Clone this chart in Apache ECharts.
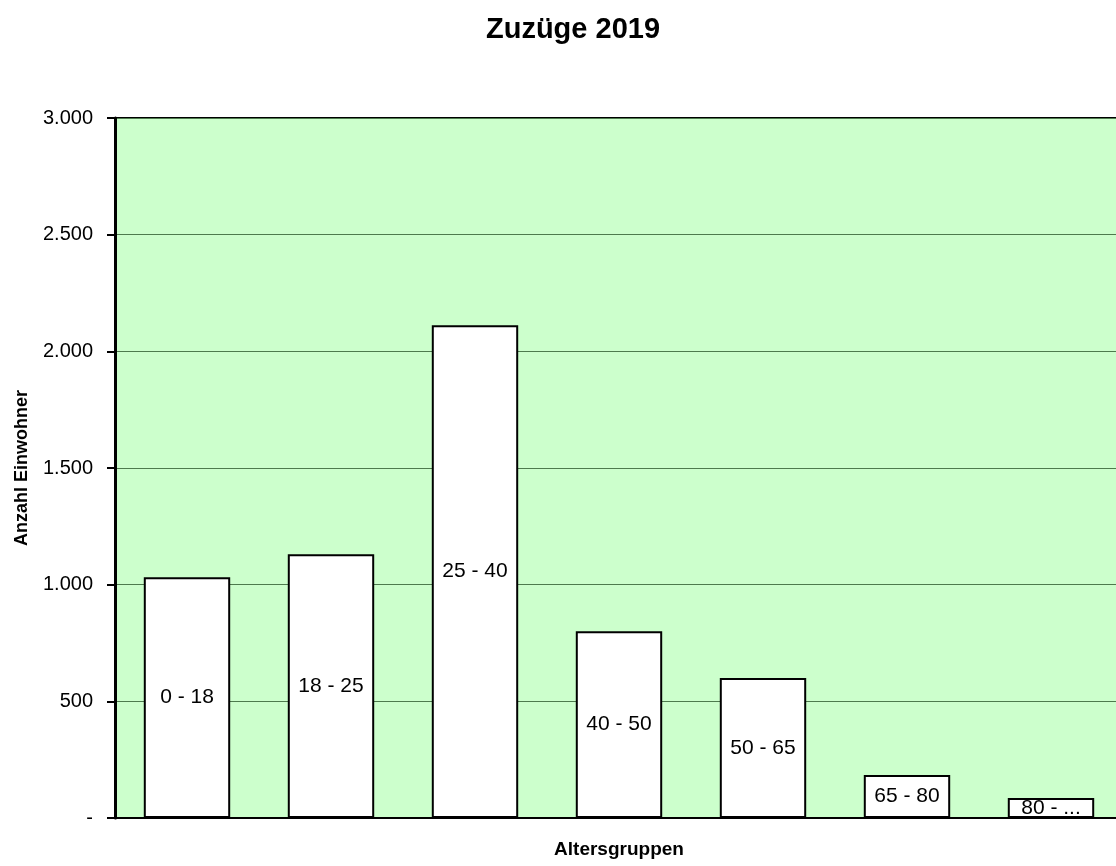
<!DOCTYPE html>
<html>
<head>
<meta charset="utf-8">
<script src="https://cdn.jsdelivr.net/npm/echarts@6/dist/echarts.min.js"></script>
<style>
  html, body { margin: 0; padding: 0; background: #fff; overflow: hidden; }
  /* plot runs a few px past the right window edge, like the original */
  #chart { width: 1123px; height: 866px; }
</style>
</head>
<body>
<div id="chart"></div>
<script>
  // Altersgruppen und Zuzüge
  var categories = ['0 - 18', '18 - 25', '25 - 40', '40 - 50', '50 - 65', '65 - 80', '80 - ...'];
  var zuzuege = [1032, 1130, 2112, 800, 600, 184, 86];
  var yTicks = [0, 500, 1000, 1500, 2000, 2500, 3000];

  var chart = echarts.init(document.getElementById('chart'));
  var font = 'Liberation Sans, Arial, sans-serif';

  chart.setOption({
    animation: false,
    title: {
      text: 'Zuzüge 2019',
      left: 568,
      textAlign: 'center',
      top: 10,
      textStyle: { fontFamily: font, fontSize: 29, fontWeight: 'bold', color: '#000' }
    },
    grid: {
      left: 115,
      top: 118,
      right: 0,
      bottom: 48,
      show: true,
      backgroundColor: '#ccffcc',
      borderColor: '#000',
      borderWidth: 2
    },
    xAxis: {
      type: 'category',
      data: categories,
      name: 'Altersgruppen',
      nameLocation: 'middle',
      nameGap: 22,
      nameTextStyle: { fontFamily: font, fontSize: 19, fontWeight: 'bold', color: '#000' },
      axisLine: { lineStyle: { color: '#000', width: 2 } },
      axisTick: { show: false },
      axisLabel: { show: false }
    },
    yAxis: {
      type: 'value',
      min: yTicks[0],
      max: yTicks[yTicks.length - 1],
      interval: 500,
      name: 'Anzahl Einwohner',
      nameLocation: 'middle',
      nameGap: 84,
      nameTextStyle: { fontFamily: font, fontSize: 18, fontWeight: 'bold', color: '#000' },
      axisLine: { show: true, lineStyle: { color: '#000', width: 3 } },
      axisTick: { show: true, length: 8, lineStyle: { color: '#000', width: 2 } },
      axisLabel: {
        fontFamily: font,
        fontSize: 20,
        color: '#000',
        margin: 22,
        formatter: function (v) {
          if (v === 0) return '-';
          return v.toString().replace(/\B(?=(\d{3})+(?!\d))/g, '.');
        }
      },
      splitLine: { lineStyle: { color: '#4d7a4d', width: 1 } }
    },
    series: [{
      type: 'bar',
      data: zuzuege,
      barWidth: '60%',
      itemStyle: { color: '#fff', borderColor: '#000', borderWidth: 2 },
      label: {
        show: true,
        position: 'inside',
        formatter: '{b}',
        fontFamily: font,
        fontSize: 21,
        color: '#000'
      }
    }]
  });
</script>
</body>
</html>
